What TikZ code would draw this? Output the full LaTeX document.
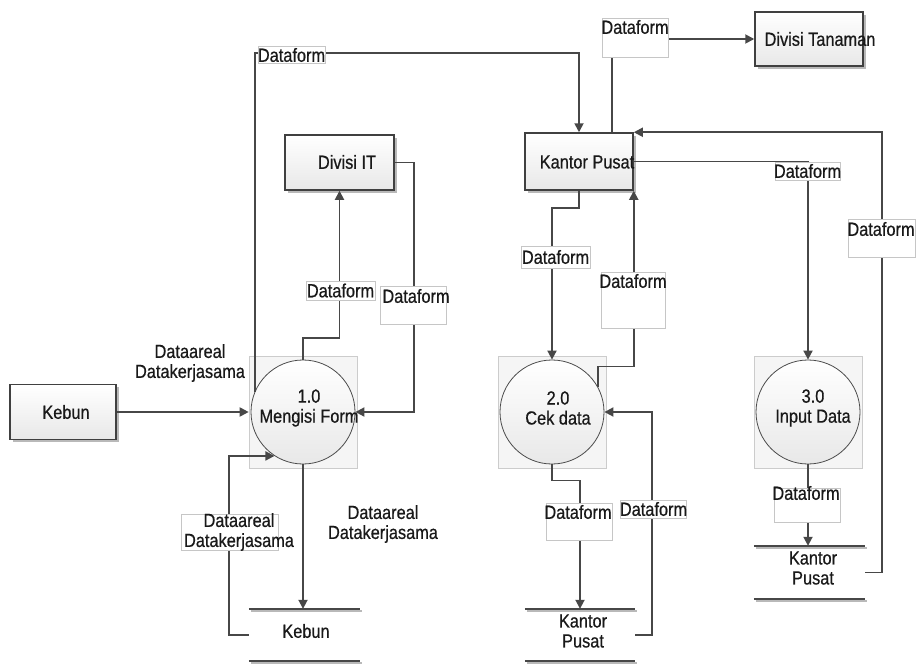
\documentclass[tikz,border=0pt]{standalone}
\usepackage{fontspec}
\setmainfont{Liberation Sans}[FakeStretch=0.86,FakeBold=0.6]
\usetikzlibrary{arrows.meta,shadows,calc}
\begin{document}
\begin{tikzpicture}[x=1pt,y=-1pt,
  font=\fontsize{19}{20}\selectfont,
  flow/.style={draw=black!72, line width=1.8pt, -{Triangle[length=9pt,width=9pt]}},
  entity/.style={draw=black!75, line width=1.5pt, top color=white, bottom color=gray!18, inner sep=0,
     drop shadow={shadow xshift=2.5pt, shadow yshift=-2.5pt, fill=gray!55, opacity=1}},
  psq/.style={draw=gray!40, fill=gray!8, line width=0.6pt, minimum width=108, minimum height=112, inner sep=0},
  proc/.style={circle, draw=black!70, line width=0.8pt, top color=white, bottom color=gray!18, minimum size=104, inner sep=0},
  store/.style={inner sep=0, minimum height=52},
  sline/.style={draw=black!72, line width=1.6pt},
  sshadow/.style={draw=gray!55, line width=1.5pt},
  lbox/.style={draw=gray!45, fill=white, line width=0.6pt, inner sep=0},
  txt/.style={inner sep=0, align=center, text=black!90}
]
\useasboundingbox (0,0) rectangle (920,664);

% process boxes
\node[psq] (q1) at (303,412) {};
\node[proc] (p1) at (303,412) {};
\node[psq] (q2) at (552,412) {};
\node[proc] (p2) at (552,412) {};
\node[psq] (q3) at (808,412) {};
\node[proc] (p3) at (808,412) {};

% external entities
\node[entity, minimum width=106, minimum height=55] (ke) at (63,412) {};
\node[entity, minimum width=109, minimum height=55] (divIT) at (339.5,162.5) {};
\node[entity, minimum width=108, minimum height=57] (kantor) at (579,161.5) {};
\node[entity, minimum width=108, minimum height=54] (divTan) at (809,39) {};

% data stores
\node[store, minimum width=111] (ks) at (304.5,635) {};
\node[store, minimum width=110] (ks2) at (580,635) {};
\node[store, minimum width=111, minimum height=53] (ks3) at (809.5,572.5) {};
\foreach \s in {ks,ks2,ks3}{
  \draw[sshadow] ([shift={(2,2)}]\s.north west) -- ([shift={(2,2)}]\s.north east);
  \draw[sshadow] ([shift={(2,2)}]\s.south west) -- ([shift={(2,2)}]\s.south east);
  \draw[sline] (\s.north west) -- (\s.north east);
  \draw[sline] (\s.south west) -- (\s.south east);
}

% helper coordinate
\coordinate (topy) at (0,53);

% connectors
\draw[flow] (ke.east) -- (q1.west);
\draw[flow] (p1.south) -- (p1.south |- ks.north);
\draw[flow] (ks.west) -- ++(-20,0) |- (p1.237);
\draw[flow] (p1.north) -- ++(0,-22) -| (divIT.south);
\draw[flow] (divIT.east) -- ++(19,0) |- (p1.east);
\draw[flow] (p1.157) -- (p1.157 |- topy) -| (kantor.north);
\draw[flow] ([xshift=33pt]kantor.north) |- (divTan.west);
\draw[flow] (kantor.east) -| (p3.north);
\draw[flow] (ks3.east) -- ++(17,0) |- (kantor.north east);
\draw[flow] (kantor.south) -- ++(0,17) -| (p2.north);
\draw[flow] (p2.28) -- ++(0,-21) -| (kantor.south east);
\draw[flow] (p2.south) -- ++(0,16) -| (ks2.north);
\draw[flow] (ks2.east) -- ++(17,0) |- (p2.east);
\draw[flow] (p3.south) -- (p3.south |- ks3.north);

% texts of shapes
\node[txt] (t1) at (309,408) {1.0\\Mengisi Form};
\node[txt] (t2) at (558,408) {2.0\\Cek data};
\node[txt] (t3) at (813,408) {3.0\\Input Data};
\node[txt] (tke) at (66,412) {Kebun};
\node[txt] (tdit) at (347,162) {Divisi IT};
\node[txt] (tkp) at (587,162) {Kantor Pusat};
\node[txt] (tdt) at (820,39) {Divisi Tanaman};
\node[txt] (tks) at (306,631) {Kebun};
\node[txt] (tks2) at (583,631) {Kantor\\Pusat};
\node[txt] (tks3) at (813,568) {Kantor\\Pusat};

% flow labels
\node[txt] (la) at (190,363) {Dataareal\\Datakerjasama};
\node[txt] (lb) at (383,524) {Dataareal\\Datakerjasama};
\node[lbox, minimum width=97, minimum height=36] (lcb) at (229.5,532) {};
\node[txt] (lc) at (239,532) {Dataareal\\Datakerjasama};

\node[lbox, minimum width=67, minimum height=17] (d1) at (291.5,55) {};
\node[txt] at (d1) {Dataform};
\node[lbox, minimum width=66, minimum height=39] (d2) at (635,37.5) {};
\node[txt] at (635,27) {Dataform};
\node[lbox, minimum width=65, minimum height=18] (d3) at (807.5,171) {};
\node[txt] at (d3) {Dataform};
\node[lbox, minimum width=67, minimum height=38] (d4) at (881.5,238) {};
\node[txt] at (881,229) {Dataform};
\node[lbox, minimum width=69, minimum height=22] (d5) at (555.5,257) {};
\node[txt] at (d5) {Dataform};
\node[lbox, minimum width=64, minimum height=56] (d6) at (633,300) {};
\node[txt] at (633,281) {Dataform};
\node[lbox, minimum width=69, minimum height=19] (d7) at (340.5,290.5) {};
\node[txt] at (d7) {Dataform};
\node[lbox, minimum width=66, minimum height=38] (d8) at (413,305) {};
\node[txt] at (416,296) {Dataform};
\node[lbox, minimum width=66, minimum height=37] (d9) at (579,521.5) {};
\node[txt] at (578,512) {Dataform};
\node[lbox, minimum width=66, minimum height=18] (d10) at (653.5,509) {};
\node[txt] at (d10) {Dataform};
\node[lbox, minimum width=66, minimum height=34] (d11) at (807,505) {};
\node[txt] at (806,493) {Dataform};
\end{tikzpicture}
\end{document}
